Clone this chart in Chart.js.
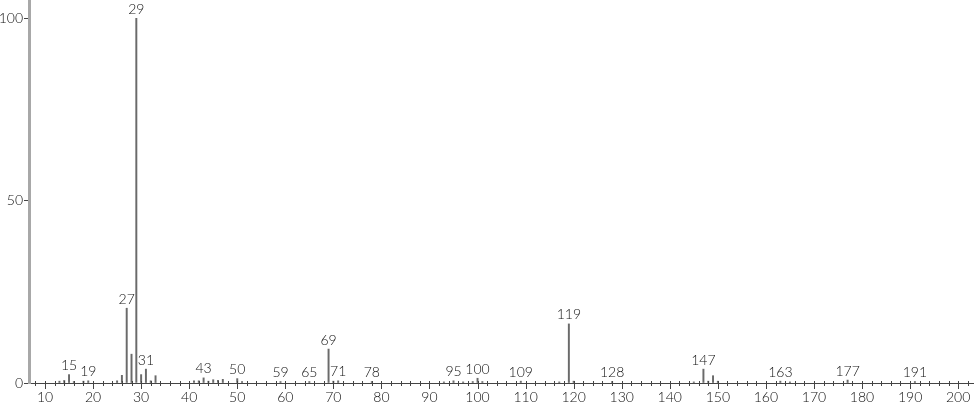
<!DOCTYPE html>
<html>
<head>
<meta charset="utf-8">
<script src="https://cdn.jsdelivr.net/npm/chart.js@4/dist/chart.umd.min.js"></script>
<style>
html,body{margin:0;padding:0;background:#fff;}
#wrap{width:974px;height:406px;position:relative;}
</style>
</head>
<body>
<div id="wrap"><canvas id="c" width="974" height="406"></canvas></div>
<script>
// m/z values
const masses = [13,14,15,16,18,19,25,26,27,28,29,30,31,32,33,41,42,43,44,45,46,47,50,51,59,65,69,70,71,78,93,95,97,99,100,101,109,117,119,120,128,145,147,148,149,150,163,165,177,191];
// relative intensities (%)
const intensities = [0.5,0.7,2.3,0.4,0.5,0.6,0.6,2.1,20.5,7.9,100,2.3,3.8,0.6,2.0,0.6,0.6,1.4,0.5,0.9,0.7,1.0,1.2,0.4,0.4,0.4,9.3,0.5,0.6,0.4,0.3,0.6,0.3,0.4,1.3,0.4,0.5,0.3,16.2,0.5,0.4,0.3,3.8,0.5,2.0,0.5,0.5,0.3,0.8,0.4];
// peaks carrying a text label
const labeledPeaks = [15,19,27,29,31,43,50,59,65,69,71,78,95,100,109,119,128,147,163,177,191];
// axis tick labels
const xTickLabels = [10,20,30,40,50,60,70,80,90,100,110,120,130,140,150,160,170,180,190,200];
const yTickLabels = [0,50,100];
const xMinorStep = 2;

const FAMILY = 'Lato, "Liberation Sans", Arial, sans-serif';
const FONT = '300 14px ' + FAMILY;

const peakLabelPlugin = {
  id: 'peakLabels',
  afterDatasetsDraw(chart) {
    const ctx = chart.ctx;
    const xs = chart.scales.x, ys = chart.scales.y;
    const y0 = ys.getPixelForValue(0);
    ctx.save();
    // x axis tick marks
    ctx.strokeStyle = '#444';
    ctx.lineWidth = 1;
    const start = Math.ceil(xs.min / xMinorStep) * xMinorStep;
    for (let v = start; v <= xs.max; v += xMinorStep) {
      const px = Math.round(xs.getPixelForValue(v)) + 0.5;
      const major = xTickLabels.includes(v);
      ctx.beginPath();
      ctx.moveTo(px, y0 - 2);
      ctx.lineTo(px, y0 + (major ? 6 : 3));
      ctx.stroke();
    }
    // peak labels
    ctx.fillStyle = '#111';
    ctx.font = FONT;
    ctx.textAlign = 'center';
    ctx.textBaseline = 'bottom';
    labeledPeaks.forEach(m => {
      const i = masses.indexOf(m);
      if (i < 0) return;
      const px = xs.getPixelForValue(m);
      const py = ys.getPixelForValue(intensities[i]);
      ctx.fillText(String(m), px, py - 2);
    });
    ctx.restore();
  }
};

new Chart(document.getElementById('c'), {
  type: 'bar',
  data: {
    datasets: [{
      data: masses.map((m, i) => ({x: m, y: intensities[i]})),
      backgroundColor: '#6a6a6a',
      borderWidth: 0,
      barThickness: 1.3
    }]
  },
  options: {
    responsive: false,
    animation: false,
    layout: {padding: 0},
    plugins: {legend: {display: false}, tooltip: {enabled: false}},
    scales: {
      x: {
        type: 'linear',
        min: 6.67,
        max: 203.3,
        offset: false,
        afterBuildTicks: s => { s.ticks = xTickLabels.map(v => ({value: v})); },
        afterFit: s => { s.height = 23; s.paddingLeft = 0; s.paddingRight = 0; },
        grid: {display: false, drawTicks: false},
        border: {display: true, color: '#444', width: 1},
        ticks: {color: '#111', font: {family: FAMILY, size: 14, weight: '300'}, padding: 6, maxRotation: 0, autoSkip: false}
      },
      y: {
        min: 0,
        max: 105,
        afterBuildTicks: s => { s.ticks = yTickLabels.map(v => ({value: v})); },
        afterFit: s => { s.width = 29; s.paddingTop = 0; s.paddingBottom = 0; },
        grid: {drawOnChartArea: false, drawTicks: true, tickLength: 5, color: '#444'},
        border: {display: true, color: '#a8a8a8', width: 3},
        ticks: {color: '#111', font: {family: FAMILY, size: 14, weight: '300'}, padding: 1}
      }
    }
  },
  plugins: [peakLabelPlugin]
});
</script>
</body>
</html>
